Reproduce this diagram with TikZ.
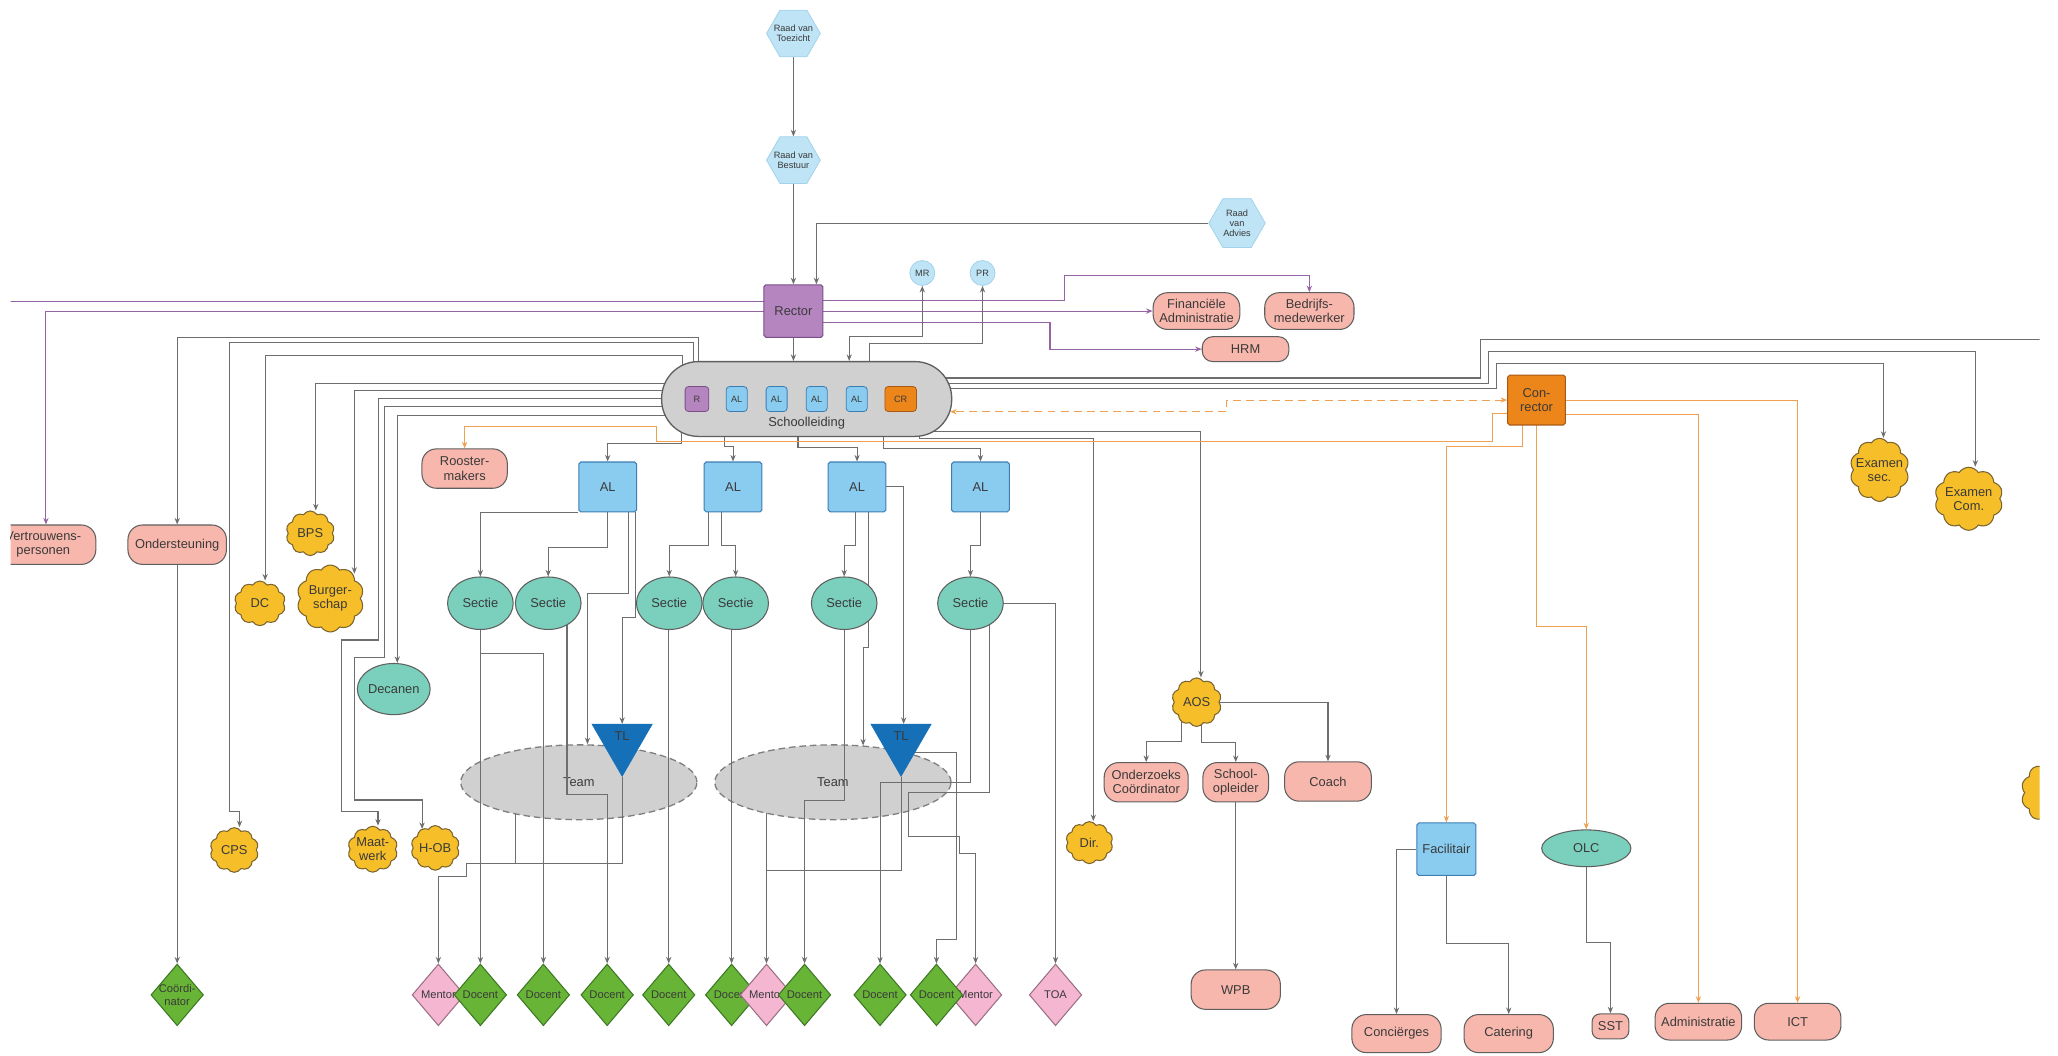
\documentclass[tikz,border=0pt]{standalone}
\usepackage{fontspec}
\setmainfont{Liberation Sans}
\usetikzlibrary{shapes.geometric,shapes.symbols,shapes.misc,arrows.meta}
\definecolor{pinkc}{HTML}{F8B7AC}
\definecolor{tealc}{HTML}{7AD0BC}
\definecolor{bluec}{HTML}{8ACCF0}
\definecolor{blueb}{HTML}{3C7DB4}
\definecolor{purc}{HTML}{B585C0}
\definecolor{purb}{HTML}{7A4E87}
\definecolor{orc}{HTML}{EC851A}
\definecolor{orb}{HTML}{A85A14}
\definecolor{yelc}{HTML}{F6BE28}
\definecolor{yelb}{HTML}{7A6430}
\definecolor{greenc}{HTML}{68B436}
\definecolor{greenb}{HTML}{3C7823}
\definecolor{pinkd}{HTML}{F5B6D2}
\definecolor{pinkdb}{HTML}{9A7085}
\definecolor{tlc}{HTML}{1670B8}
\definecolor{grayc}{HTML}{D0D0D0}
\definecolor{hexc}{HTML}{BEE4F6}
\definecolor{hexb}{HTML}{A2D2EC}
\definecolor{linec}{HTML}{6E6E6E}
\definecolor{purl}{HTML}{9664A5}
\definecolor{orl}{HTML}{F0A050}
\definecolor{bordc}{HTML}{5F5F5F}
\definecolor{txtc}{HTML}{3A3A3A}
\pgfdeclarelayer{bg}
\pgfdeclarelayer{edges}
\pgfsetlayers{bg,edges,main}
\tikzset{
  lbl/.style={font=\fontsize{9.8}{10.8}\selectfont, text=txtc, align=center, inner sep=0pt},
  lbls/.style={font=\fontsize{7}{7.8}\selectfont, text=txtc, align=center, inner sep=0pt},
  lbld/.style={font=\fontsize{8.5}{9.5}\selectfont, text=txtc, align=center, inner sep=0pt},
  nd/.style={font=\fontsize{9.8}{10.8}\selectfont, text=txtc, align=center, line width=0.8pt, inner sep=1pt},
  pinkbox/.style={nd, draw=bordc, fill=pinkc, rounded corners=11pt, minimum width=66pt, minimum height=29pt},
  sectie/.style={nd, ellipse, draw=bordc, fill=tealc, minimum width=50pt, minimum height=40pt, inner sep=0pt},
  albox/.style={nd, draw=blueb, fill=bluec, rounded corners=1.5pt, minimum width=44pt, minimum height=38pt},
  cloudn/.style={cloud, cloud puffs=10, cloud puff arc=115, aspect=1, draw=yelb, fill=yelc, line width=0.8pt, inner sep=0pt},
  dia/.style={diamond, line width=0.8pt, inner sep=0pt, minimum width=40pt, minimum height=47pt},
  docent/.style={dia, draw=greenb, fill=greenc, label={[lbld]center:Docent}},
  mentor/.style={dia, draw=pinkdb, fill=pinkd, label={[lbld]center:Mentor}},
  hexa/.style={regular polygon, regular polygon sides=6, minimum size=41pt, inner sep=0pt, draw=hexb, fill=hexc, line width=0.6pt},
  tlshape/.style={regular polygon, regular polygon sides=3, shape border rotate=180, minimum size=53pt, inner sep=0pt, draw=tlc, fill=tlc, label={[lbl, yshift=4pt]center:TL}},
  team/.style={nd, ellipse, draw=bordc!80, fill=grayc, dash pattern=on 5pt off 3pt, line width=1pt, minimum width=180pt, minimum height=57pt},
  slbox/.style={lbls, draw=blueb, fill=bluec, rounded corners=2.5pt, minimum width=16pt, minimum height=19pt, line width=0.6pt},
  ln/.style={draw=linec, line width=0.8pt},
  pln/.style={draw=purl, line width=0.8pt},
  oln/.style={draw=orl, line width=0.8pt},
  arr/.style={-{Stealth[length=5pt,width=4pt]}},
  arr2/.style={{Stealth[length=5pt,width=4pt]}-{Stealth[length=5pt,width=4pt]}},
}
\begin{document}
\begin{tikzpicture}[x=1pt,y=-1pt]
\useasboundingbox (0,0) rectangle (1568,804);
\begin{pgfonlayer}{bg}
\fill[white] (0,0) rectangle (1568,804);
\node[team] (team1) at (441,596) {Team};
\node[team] (team2) at (634.6,596) {Team};
\end{pgfonlayer}

\begin{scope}
\clip (8,0) rectangle (1554,804);
% top
\node[hexa, label={[lbls]center:{Raad van\\Toezicht}}] (rvt) at (604.5,25.5) {};
\node[hexa, label={[lbls]center:{Raad van\\Bestuur}}] (rvb) at (604.5,122) {};
\node[hexa, minimum size=43pt, label={[lbls]center:{Raad\\van\\Advies}}] (rva) at (942.5,170) {};
\node[nd, draw=purb, fill=purc, rounded corners=1.5pt, minimum width=45pt, minimum height=40pt] (rector) at (604.5,237) {Rector};
\node[lbls, circle, draw=hexb, fill=hexc, minimum size=19pt, line width=0.6pt] (mr) at (702.7,208) {MR};
\node[lbls, circle, draw=hexb, fill=hexc, minimum size=19pt, line width=0.6pt] (pr) at (748.6,208) {PR};
\node[pinkbox, minimum height=28pt] (fin) at (911.6,237) {Financiële\\Administratie};
\node[pinkbox, minimum width=68pt, minimum height=28pt] (bedr) at (997.6,237) {Bedrijfs-\\medewerker};
\node[pinkbox, minimum height=19pt, rounded corners=8pt] (hrm) at (949,266) {HRM};
% schoolleiding
\node[nd, draw=bordc, fill=grayc, rounded corners=28pt, minimum width=221pt, minimum height=57pt, line width=1pt, label={[lbl, yshift=-18.5pt]center:Schoolleiding}] (sl) at (614.6,304) {};
\node[slbox, draw=purb, fill=purc, minimum width=18pt] (sr) at (531,304) {R};
\node[slbox] (sal1) at (561.3,304) {AL};
\node[slbox] (sal2) at (591.7,304) {AL};
\node[slbox] (sal3) at (622.2,304) {AL};
\node[slbox] (sal4) at (652.7,304) {AL};
\node[slbox, draw=orb, fill=orc, minimum width=24pt] (scr) at (686.2,304) {CR};
% left column
\node[pinkbox, minimum width=80pt, minimum height=30pt] (vert) at (33,415) {Vertrouwens-\\personen};
\node[pinkbox, minimum width=75pt, minimum height=30pt] (onder) at (135,415) {Ondersteuning};
\node[pinkbox, minimum width=65pt, minimum height=30pt] (roost) at (354,357) {Rooster-\\makers};
\node[cloudn, minimum width=37pt, minimum height=34pt, label={[lbl]center:BPS}] (bps) at (236.4,406.3) {};
\node[cloudn, minimum width=39pt, minimum height=34pt, label={[lbl]center:DC}] (dc) at (198,459.7) {};
\node[cloudn, minimum width=51pt, minimum height=51pt, label={[lbl]center:{Burger-\\schap}}] (burg) at (251.7,456) {};
\node[cloudn, minimum width=37pt, minimum height=34pt, label={[lbl]center:CPS}] (cps) at (178.5,647.6) {};
\node[cloudn, minimum width=38pt, minimum height=35pt, label={[lbl]center:{Maat-\\werk}}] (maat) at (284,647) {};
\node[cloudn, minimum width=37pt, minimum height=34pt, label={[lbl]center:H-OB}] (hob) at (331.6,646) {};
\node[sectie, minimum width=51pt, minimum height=39pt] (dec) at (300,525) {Decanen};
% AL and secties
\node[albox] (al1) at (463,371) {AL};
\node[albox] (al2) at (558.5,371) {AL};
\node[albox] (al3) at (653,371) {AL};
\node[albox] (al4) at (747,371) {AL};
\node[sectie] (s1) at (366,459.6) {Sectie};
\node[sectie] (s2) at (417.7,459.6) {Sectie};
\node[sectie] (s3) at (509.9,459.6) {Sectie};
\node[sectie] (s4) at (560.5,459.6) {Sectie};
\node[sectie] (s5) at (643.2,459.6) {Sectie};
\node[sectie] (s6) at (739.4,459.6) {Sectie};
\node[tlshape] (tl1) at (474,565) {};
\node[tlshape] (tl2) at (686.5,565) {};
% bottom diamonds
\node[dia, draw=greenb, fill=greenc, label={[lbld]center:{Coördi-\\nator}}] (coord) at (135,758) {};
\node[mentor] (m1) at (334,758) {};
\node[docent] (d1) at (366,758) {};
\node[docent] (d2) at (414,758) {};
\node[docent] (d3) at (462.6,758) {};
\node[docent] (d4) at (509.5,758) {};
\node[docent] (d5) at (557.4,758) {};
\node[mentor] (m2) at (584,758) {};
\node[docent] (d6) at (613,758) {};
\node[docent] (d7) at (670.5,758) {};
\node[mentor] (m3) at (743.3,758) {};
\node[docent] (d8) at (713.5,758) {};
\node[dia, draw=pinkdb, fill=pinkd, label={[lbld]center:TOA}] (toa) at (804.2,758) {};
% right part
\node[cloudn, minimum width=36pt, minimum height=32pt, label={[lbl]center:Dir.}] (dir) at (830,642) {};
\node[cloudn, minimum width=38pt, minimum height=37pt, label={[lbl]center:AOS}] (aos) at (911.7,535) {};
\node[pinkbox, minimum width=64pt, minimum height=30pt] (onz) at (873.3,596) {Onderzoeks\\Coördinator};
\node[pinkbox, minimum width=50pt, minimum height=30pt] (sop) at (941.5,596) {School-\\opleider};
\node[pinkbox, minimum width=66pt, minimum height=30pt] (coach) at (1011.8,595.4) {Coach};
\node[pinkbox, minimum width=68pt, minimum height=30pt] (wpb) at (941.5,754) {WPB};
\node[nd, draw=orb, fill=orc, rounded corners=1.5pt, minimum width=44pt, minimum height=38pt] (conr) at (1170.7,304.8) {Con-\\rector};
\node[cloudn, minimum width=45pt, minimum height=48pt, label={[lbl]center:{Examen\\sec.}}] (exsec) at (1432,358) {};
\node[cloudn, minimum width=52pt, minimum height=48pt, label={[lbl]center:{Examen\\Com.}}] (excom) at (1500,380) {};
\node[albox, minimum width=45pt, minimum height=40pt] (fac) at (1102,647) {Facilitair};
\node[sectie, minimum width=68pt, minimum height=28pt] (olc) at (1208.6,646.3) {OLC};
\node[pinkbox, minimum width=68pt, minimum height=29pt] (conc) at (1064,787.5) {Conciërges};
\node[pinkbox, minimum width=68pt, minimum height=29pt] (cat) at (1149.5,787.5) {Catering};
\node[pinkbox, minimum width=28pt, minimum height=19pt, rounded corners=6pt] (sst) at (1227,782) {SST};
\node[pinkbox, minimum width=66pt, minimum height=28pt] (adm) at (1294,778.4) {Administratie};
\node[pinkbox, minimum width=66pt, minimum height=28pt] (ict) at (1369.6,778.4) {ICT};
\node[cloudn, minimum width=42pt, minimum height=46pt] (cutc) at (1561,604) {};
\end{scope}

\begin{pgfonlayer}{edges}
\begin{scope}
\clip (8,0) rectangle (1554,804);
\coordinate (ledge) at (0,230);
\coordinate (redge) at (1568,259);
% top
\draw[ln,arr] (rvt.south) -- (rvb.north);
\draw[ln,arr] (rvb.south) -- (rector.north);
\draw[ln,arr] (rva.west) -| ([xshift=17.5pt]rector.north);
\draw[pln] (ledge) -- (rector.center |- ledge);
\draw[pln,arr] (rector.center) -| ([xshift=2pt]vert.north);
\draw[pln,arr] ([yshift=8pt]rector.center) -- (811,229) -- (811,210) -| (bedr.north);
\draw[pln,arr] (rector.center) -- (fin.west);
\draw[pln,arr] ([yshift=-9pt]rector.center) -- (800,246) |- (hrm.west);
\draw[ln,arr] (rector.south) -- (rector.south |- sl.north);
\draw[ln,arr2] (mr.south) |- (647,256.5) -- ([xshift=32.4pt]sl.north);
\draw[ln,arr] ([xshift=48pt]sl.center) |- (748.6,261.6) -- (pr.south);
% schoolleiding to the left
\draw[ln,arr] ([xshift=-82.6pt]sl.center) -- ++(0,-46.7) -| (onder.north);
\draw[ln,arr] ([xshift=-86pt]sl.center) -- ++(0,-42.9) -| (174.5,618) -| ([xshift=4pt]cps.north);
\draw[ln,arr] ([xshift=-94.6pt]sl.center) -- ++(0,-32.8) -| ([xshift=4pt]dc.north);
\draw[ln,arr] ([yshift=11.9pt]sl.center) -| ([xshift=4.2pt]bps.north);
\draw[ln,arr] ([yshift=6.3pt]sl.center) -| ([shift={(18.3pt,-7pt)}]burg.north);
\draw[ln,arr] ([yshift=0.5pt]sl.center) -| (288.4,487.6) -| (260,618.5) -| ([xshift=4pt]maat.north);
\draw[ln,arr] ([yshift=-5.8pt]sl.center) -| (293,500.6) -| (270,609.5) -| ([shift={(-10pt,-3pt)}]hob.north);
\draw[ln,arr] ([yshift=-12.7pt]sl.center) -| ([xshift=2.7pt]dec.north);
\draw[ln,arr] (onder.south) -- (onder.south |- coord.north);
% schoolleiding to AL
\draw[ln,arr] ([xshift=-95.6pt]sl.center) -- ++(0,34) -| (al1.north);
\draw[ln,arr] ([xshift=-62.6pt]sl.center) -- ++(0,36) -| (al2.north);
\draw[ln,arr] ([xshift=-6.6pt]sl.center) -- ++(0,37) -| (al3.north);
\draw[ln,arr] ([xshift=58.4pt]sl.center) -- ++(0,38) -| (al4.north);
% schoolleiding to the right
\draw[ln,arr] ([shift={(-15pt,-18pt)}]sl.east) -- ++(0,7) -| ([xshift=3.3pt]aos.north);
\draw[ln,arr] ([shift={(-25pt,-22pt)}]sl.east) -- ++(0,7.8) -| ([xshift=3pt]dir.north);
\draw[ln] ([yshift=16pt]sl.center) -- (1128,288) -- (1128,259) -- (redge);
\draw[ln,arr] ([yshift=12pt]sl.center) -- (1134,292) -- (1134,268) -| ([xshift=5pt]excom.north);
\draw[ln,arr] ([yshift=8pt]sl.center) -- (1140,296) -- (1140,277) -| ([xshift=3pt]exsec.north);
% conrector
\draw[oln,arr2,dash pattern=on 6pt off 4pt] (conr.west) -- (934.6,304.8) -- (934.6,313.7) -- ([shift={(-1.7pt,-9.7pt)}]sl.east);
\draw[oln,arr] ([yshift=-10pt]conr.center) -- (1137,314.8) -- (1137,336.5) -- (500,336.5) -- (500,325) -| (roost.north);
\draw[oln,arr] ([xshift=-10.7pt]conr.center) -- ++(0,35.2) -| (fac.north);
\draw[oln,arr] (conr.center) -- (1170.7,477.5) -| (olc.north);
\draw[oln,arr] ([yshift=-11pt]conr.center) -| (adm.north);
\draw[oln,arr] (conr.center) -| (ict.north);
\draw[ln,arr] (fac.west) -| (conc.north);
\draw[ln,arr] (fac.south) -- ++(0,51.6) -| (cat.north);
\draw[ln,arr] (olc.south) -- ++(0,57.2) -| (sst.north);
% AOS
\draw[ln,arr] ([xshift=-11.7pt]aos.center) -- ++(0,30) -| (onz.north);
\draw[ln,arr] ([xshift=4pt]aos.center) -- ++(0,31) -| (sop.north);
\draw[ln,arr] (aos.center) -| (coach.north);
\draw[ln,arr] (sop.south) -- (sop.south |- wpb.north);
% AL to secties / teams
\draw[ln,arr] (al1.south west) -| (s1.north);
\draw[ln,arr] (al1.south) -- ++(0,26.5) -| (s2.north);
\draw[ln,arr] ([xshift=21pt]al1.south) -- ++(0,80) -| (tl1.north);
\draw[ln,arr] ([xshift=16pt]al1.south) -- ++(0,62) -| ([xshift=6.6pt]team1.north);
\draw[ln,arr] ([xshift=-19pt]al2.south) -- ++(0,25) -| (s3.north);
\draw[ln,arr] ([xshift=-9pt]al2.south) -- ++(0,25) -| (s4.north);
\draw[ln,arr] ([xshift=-1.3pt]al3.south) -- ++(0,25) -| (s5.north);
\draw[ln,arr] ([xshift=8.5pt]al3.south) -- ++(0,102.7) -| ([shift={(23pt,-1pt)}]team2.north);
\draw[ln,arr] (al3.east) -| ([xshift=2pt]tl2.north);
\draw[ln,arr] ([xshift=-0.3pt]al4.south) -- ++(0,25) -| (s6.north);
% secties to bottom
\draw[ln,arr] (s1.south) -- (d1.north);
\draw[ln,arr] (s1.south) -- ++(0,18) -| (d2.north);
\draw[ln,arr] ([xshift=14.3pt]s2.center) -- ++(0,146) -| (d3.north);
\draw[ln,arr] (d4.north |- s3.center) -- (d4.north);
\draw[ln,arr] (d5.north |- s4.center) -- (d5.north);
\draw[ln,arr] (s5.south) -- ++(0,130) -| (d6.north);
\draw[ln,arr] (s6.south) -- ++(0,116) -| (d7.north);
\draw[ln,arr] ([xshift=14.6pt]s6.center) -- (754,604) -- (692,604) -- (692,637.5) -- (731,637.5) -- (731,650) -| (m3.north);
\draw[ln,arr] (s6.center) -| (toa.north);
\draw[ln,arr] (tl1.south) |- (355.4,657.6) -- (355.4,668) -| (m1.north);
\draw[ln] ([shift={(-48pt,-24pt)}]team1.center) -- (393,657.6);
\draw[ln,arr] (tl2.south) |- (584,663) -- (m2.north);
\draw[ln] ([shift={(-50.6pt,-23.6pt)}]team2.center) -- (584,663);
\draw[ln,arr] ([shift={(3.5pt,-8pt)}]tl2.center) -- (729,573) -- (729,716) -| (d8.north);
\end{scope}
\end{pgfonlayer}
\end{tikzpicture}
\end{document}
